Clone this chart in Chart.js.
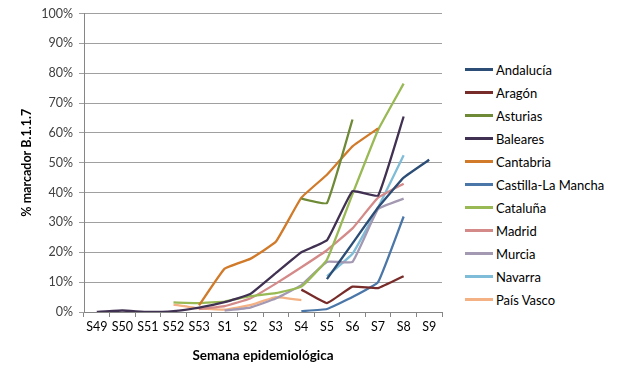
<!DOCTYPE html>
<html>
<head>
<meta charset="utf-8">
<script src="https://cdn.jsdelivr.net/npm/chart.js@4.4.1/dist/chart.umd.min.js"></script>
<style>
    body { margin: 0; background: #fff; font-family: Lato, 'Open Sans', sans-serif; }
    #wrap { position: relative; width: 620px; height: 368px; }
    #box { position: absolute; left: 0; top: 0; width: 460px; height: 368px; }
    #legend { position: absolute; left: 465px; top: 58px; font-size: 13px; color: #000; }
    #legend div { height: 23px; display: flex; align-items: center; }
    #legend span.ln { display: inline-block; width: 28px; height: 2.5px; margin-right: 3px; }
</style>
</head>
<body>
<div id="wrap">
    <div id="box"><canvas id="grafico"></canvas></div>
    <div id="legend"></div>
</div>
<script>
// Semanas epidemiológicas
const semanas = ['S49', 'S50', 'S51', 'S52', 'S53', 'S1', 'S2', 'S3', 'S4', 'S5', 'S6', 'S7', 'S8', 'S9'];
const yTicks = [0, 10, 20, 30, 40, 50, 60, 70, 80, 90, 100];

// % marcador B.1.1.7 por comunidad (null = sin dato)
const andalucia   = [null, null, null, null, null, null, null, null, null, 11, 23, 35, 45, 51];
const aragon      = [null, null, null, null, null, null, null, null, 7.5, 3, 8.5, 8, 12, null];
const asturias    = [null, null, null, null, null, null, null, null, 38, 36.5, 64.5, null, null, null];
const baleares    = [0, 0.5, 0, 0.3, 1.5, 3.3, 6, 13, 20, 24, 40.5, 39, 65.5, null];
const cantabria   = [null, null, null, null, 2.2, 14.5, 17.8, 23.5, 38.3, 46, 55.5, 61.5, null, null];
const castillaLM  = [null, null, null, null, null, null, null, null, 0.3, 1, 5, 10, 32, null];
const cataluna    = [null, null, null, 3.2, 3, 3.5, 5.3, 6.3, 8.5, 17.5, 39.5, 61, 76.5, null];
const madrid      = [null, null, null, null, 1, 2, 4.5, 9.5, 15, 20.7, 28, 38.3, 43, null];
const murcia      = [null, null, null, null, null, 0.5, 1.5, 4.5, 9, 16.8, 16.8, 34.5, 38, null];
const navarra     = [null, null, null, null, null, null, null, null, null, 12, 19.5, 35, 52.5, null];
const paisVasco   = [null, null, null, 2.5, 1.2, 0.8, 2.3, 5, 4, null, null, null, null, null];

const series = [
    { label: 'Andalucía', data: andalucia, color: '#2C4D75' },
    { label: 'Aragón', data: aragon, color: '#772C2A' },
    { label: 'Asturias', data: asturias, color: '#6E8A36' },
    { label: 'Baleares', data: baleares, color: '#403152' },
    { label: 'Cantabria', data: cantabria, color: '#D07A2A' },
    { label: 'Castilla-La Mancha', data: castillaLM, color: '#4A76A8' },
    { label: 'Cataluña', data: cataluna, color: '#98B954' },
    { label: 'Madrid', data: madrid, color: '#D48A88' },
    { label: 'Murcia', data: murcia, color: '#A499B3' },
    { label: 'Navarra', data: navarra, color: '#7FBCD8' },
    { label: 'País Vasco', data: paisVasco, color: '#F4B183' }
];

// Leyenda a la derecha
const legendEl = document.getElementById('legend');
series.forEach(s => {
    const row = document.createElement('div');
    row.innerHTML = '<span class="ln" style="background:' + s.color + '"></span>' + s.label;
    legendEl.appendChild(row);
});

new Chart(document.getElementById('grafico'), {
    type: 'line',
    data: {
        labels: semanas,
        datasets: series.map(s => ({
            label: s.label,
            data: s.data,
            borderColor: s.color,
            backgroundColor: s.color,
            borderWidth: 2.3,
            pointRadius: 0,
            tension: 0.1,
            spanGaps: false
        }))
    },
    options: {
        responsive: true,
        maintainAspectRatio: false,
        animation: false,
        layout: { padding: { top: 12, right: 18, left: 0, bottom: 0 } },
        plugins: {
            legend: { display: false },
            tooltip: { enabled: false }
        },
        scales: {
            x: {
                offset: true,
                grid: { offset: true, drawOnChartArea: false, color: '#868686', tickLength: 5 },
                border: { color: '#868686' },
                ticks: { color: '#000', font: { family: 'Lato', size: 12.5 }, maxRotation: 0, autoSkip: false, padding: 2 },
                title: { display: true, text: 'Semana epidemiológica', color: '#000', font: { family: 'Lato', size: 13.5, weight: 'bold' }, padding: { top: 14 } },
                afterFit: s => { s.height = 56; }
            },
            y: {
                min: 0,
                max: 100,
                afterBuildTicks: s => { s.ticks = yTicks.map(v => ({ value: v })); },
                grid: { color: '#A0A0A0', tickLength: 5 },
                border: { color: '#868686' },
                ticks: { color: '#404040', font: { family: 'Lato', size: 12.5 }, padding: 6, callback: v => v + '%' },
                title: { display: true, text: '% marcador B.1.1.7', color: '#000', font: { family: 'Lato', size: 12.5, weight: 'bold' }, padding: { top: 19, bottom: 0 } },
                afterFit: s => { s.width = 84; }
            }
        }
    }
});
</script>
</body>
</html>
